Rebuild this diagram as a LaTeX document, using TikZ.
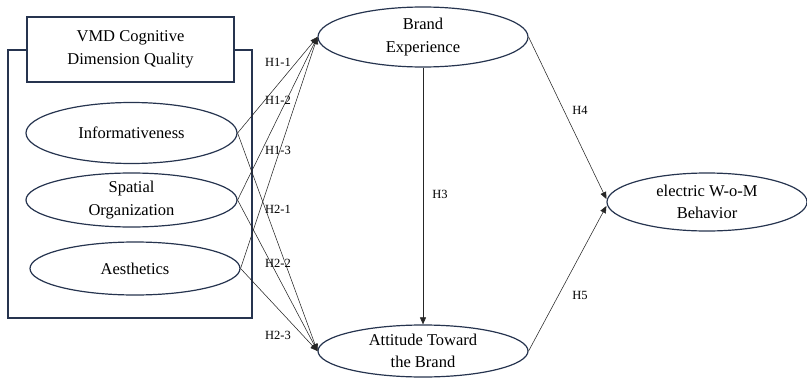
\documentclass[tikz,border=0pt]{standalone}
\usepackage{fontspec}
\setmainfont{Liberation Serif}
\usetikzlibrary{shapes.geometric,arrows.meta}

\definecolor{navy}{HTML}{26344F}

\tikzset{
	construct/.style={draw=navy, line width=1.2pt, ellipse, inner sep=0pt, align=center,
		font=\fontsize{16.5}{22.5}\selectfont},
	titlebox/.style={draw=navy, line width=1.2pt, fill=white, inner sep=0pt, align=center,
		font=\fontsize{16.5}{22.5}\selectfont},
	link/.style={draw=black!85, line width=0.55pt, -{Triangle[length=7pt,width=6pt]}},
	hyp/.style={font=\fontsize{12.5}{14}\selectfont, inner sep=1pt},
}

\begin{document}
\begin{tikzpicture}[x=1pt, y=-1pt]
		
		\useasboundingbox (0,0) rectangle (807,380);
		
		% Box
		\draw[navy, line width=1.2pt] (8,50) rectangle (252,318);
		\node[titlebox, minimum width=207pt, minimum height=65pt] (vmd) at (130.5,49.5) {VMD Cognitive\\Dimension Quality};
		
		% Constructs
		\node[construct, minimum width=211pt, minimum height=61pt] (info) at (131.5,133) {Informativeness};
		\node[construct, minimum width=211pt, minimum height=54pt] (spat) at (131.5,200) {Spatial\\Organization};
		\node[construct, minimum width=210pt, minimum height=53pt] (aes) at (135,268.5) {Aesthetics};
		\node[construct, minimum width=210pt, minimum height=60pt] (be) at (423,37) {Brand\\Experience};
		\node[construct, minimum width=210pt, minimum height=52pt] (at) at (423,351) {Attitude Toward\\the Brand};
		\node[construct, minimum width=200pt, minimum height=58pt] (ewom) at (707,202) {electric W-o-M\\Behavior};
		
		% H1 and H2 paths
		\foreach \src in {info,spat,aes} {
			\draw[link] (\src.east) -- (be.west);
			\draw[link] (\src.east) -- (at.west);
		}
		
		% H3 to H5 paths
		\draw[link] (be.south) -- (at.north);
		\draw[link] (be.east) -- ([yshift=3pt]ewom.west);
		\draw[link] (at.east) -- ([yshift=-4pt]ewom.west);
		
		% Hypothesis labels
		\node[hyp] (h11) at (278,62) {H1-1};
		\node[hyp] (h12) at (278,100) {H1-2};
		\node[hyp] (h13) at (278,150) {H1-3};
		\node[hyp] (h21) at (278,209) {H2-1};
		\node[hyp] (h22) at (278,263) {H2-2};
		\node[hyp] (h23) at (278,335) {H2-3};
		\node[hyp] (h3) at (440,194) {H3};
		\node[hyp] (h4) at (580,110) {H4};
		\node[hyp] (h5) at (580,295) {H5};
		
	\end{tikzpicture}
\end{document}
